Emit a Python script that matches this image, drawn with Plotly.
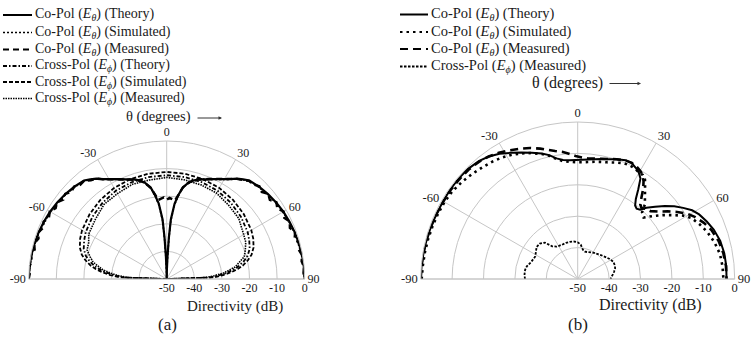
import plotly.graph_objects as go

# ------------------------------------------------------------------ data (a)
A_CO_THETA = [-90, -85, -80, -75, -70, -65, -60, -55, -50, -45, -40, -37.5, -35, -32.5, -30, -27.5, -25,
              -22.5, -20, -17.5, -15, -12.5, -10, -8, -6, -4, -3, -2, -1, 0,
              1, 2, 3, 4, 6, 8, 10, 12.5, 15, 17.5, 20, 22.5, 25, 27.5, 30, 32.5, 35, 37.5, 40,
              45, 50, 55, 60, 65, 70, 75, 80, 85, 90]
A_CO_THEORY = [0.0, -0.1, -0.2, -0.4, -0.6, -0.9, -1.2, -1.6, -2.1, -2.7, -3.4, -4.5, -5.6, -7.1, -8.2, -9.2, -10.1,
               -10.9, -11.6, -12.2, -13.1, -14.4, -16.2, -19.2, -22.5, -28.3, -35.0, -42.0, -47.0, -50.0,
               -47.0, -42.0, -35.0, -28.3, -22.5, -19.2, -16.2, -14.4, -13.1, -12.2, -11.6, -10.9, -10.1, -9.2,
               -8.2, -7.1, -5.6, -4.5, -3.4, -2.7, -2.1, -1.6, -1.2, -0.9, -0.6, -0.4, -0.2, -0.1, 0.0]
A_CO_SIM = [-0.1, -0.2, -0.4, -0.6, -0.8, -1.1, -1.4, -1.8, -2.3, -2.9, -3.6, -4.7, -5.8, -7.2, -8.3, -9.3, -10.2,
            -11.0, -11.7, -12.4, -13.3, -14.6, -16.5, -19.5, -23.0, -29.0, -36.0, -43.0, -47.5, -50.0,
            -47.5, -43.0, -36.0, -29.0, -23.0, -19.5, -16.5, -14.6, -13.3, -12.4, -11.7, -11.0, -10.2, -9.3,
            -8.3, -7.2, -5.8, -4.7, -3.6, -2.9, -2.3, -1.8, -1.4, -1.1, -0.8, -0.6, -0.4, -0.2, -0.1]
A_CO_MEAS_THETA = [-90, -87.5, -85, -82.5, -80, -77.5, -75, -72.5, -70, -67.5, -65, -62.5, -60, -57.5, -55,
                   -52.5, -50, -47.5, -45, -42.5, -40, -37.5, -35, -32.5, -30, -27.5, -25, -22.5, -20, -17.5,
                   -15, -12.5, -10, -8, -6, -4, -2, 0, 2, 4, 6, 8, 10, 12.5, 15, 17.5, 20, 22.5, 25, 27.5,
                   30, 32.5, 35, 37.5, 40, 42.5, 45, 47.5, 50, 52.5, 55, 57.5, 60, 62.5, 65, 67.5, 70, 72.5,
                   75, 77.5, 80, 82.5, 85, 87.5, 90]
A_CO_MEAS = [0.0, -0.4, 0.0, -0.7, -0.1, -1.0, -0.3, -1.3, -0.5, -1.6, -0.8, -1.9, -1.1, -2.3, -1.5,
             -2.8, -2.0, -3.2, -2.6, -3.7, -3.5, -4.9, -5.6, -7.2, -8.3, -9.3, -10.2, -11.0, -11.7, -12.3,
             -13.2, -14.5, -16.5, -19.0, -21.2, -20.8, -20.4, -21.3, -20.6, -21.0, -21.4, -19.1, -16.4, -14.4,
             -13.0, -12.1, -11.5, -10.8, -10.0, -9.1, -8.2, -7.0, -5.7, -4.8, -3.6, -3.6, -2.5, -3.3, -2.0,
             -2.9, -1.5, -2.5, -1.1, -2.0, -0.8, -1.7, -0.5, -1.4, -0.3, -1.0, -0.2, -0.7, -0.1, -0.4, 0.0]

A_X_THETA = [-90, -88, -86, -84, -82, -80, -77, -74, -70, -65, -60, -50, -40, -30, -20, -10, 0,
             10, 20, 30, 40, 50, 60, 65, 70, 74, 77, 80, 82, 84, 86, 88, 90]
A_X_THEORY = [-50.0, -34.5, -31.0, -28.0, -25.6, -23.6, -21.3, -19.5, -18.0, -17.0, -16.1, -14.9, -13.9, -13.1,
              -12.7, -12.5, -12.4, -12.5, -12.7, -13.1, -13.9, -14.9, -16.1, -17.0, -18.0, -19.5, -21.3,
              -23.6, -25.6, -28.0, -31.0, -34.5, -50.0]
A_X_SIM = [-50.0, -33.0, -29.5, -26.5, -24.0, -22.0, -19.8, -18.0, -16.5, -15.4, -14.6, -13.5, -12.6, -11.9,
           -11.5, -11.3, -11.2, -11.3, -11.5, -11.9, -12.6, -13.5, -14.6, -15.4, -16.5, -18.0, -19.8, -22.0,
           -24.0, -26.5, -29.5, -33.0, -50.0]
A_X_MEAS = [-50.0, -36.0, -32.2, -29.7, -26.8, -25.2, -22.6, -21.2, -19.3, -18.8, -17.4, -16.3, -14.7, -14.3,
            -13.5, -13.6, -13.2, -13.5, -13.7, -14.0, -15.1, -15.9, -17.8, -18.4, -19.7, -20.8, -23.0, -24.8,
            -27.2, -29.3, -32.7, -35.8, -50.0]

# ------------------------------------------------------------------ data (b)
B_CO_THETA = [-90, -85, -80, -75, -70, -65, -60, -55, -50, -45, -40, -36, -32, -28, -24, -20, -16,
              -13, -10, -7, -4, -1, 2, 5, 8, 11, 14, 18, 22, 25, 28, 30, 32, 34, 36, 38, 40, 42, 44,
              47, 50, 53, 56, 59, 62, 66, 70, 75, 80, 85, 90]
B_CO_THEORY = [0.0, -0.1, -0.2, -0.3, -0.4, -0.5, -0.5, -0.4, -0.4, -0.5, -1.0, -1.8, -3.0, -4.5, -5.9, -7.2, -8.4,
               -9.5, -11.0, -11.8, -12.1, -12.1, -12.0, -11.8, -11.5, -11.1, -10.7, -9.9, -9.2, -9.3, -10.2,
               -11.0, -12.3, -15.5, -18.5, -20.3, -20.8, -20.3, -18.5, -16.3, -13.8, -11.5, -9.5, -7.5, -6.2,
               -5.0, -3.9, -3.0, -2.6, -2.5, -2.6]
B_CO_SIM = [-0.3, -0.5, -0.6, -0.7, -0.8, -0.9, -1.0, -1.3, -1.9, -2.6, -3.3, -3.8, -4.4, -5.2, -6.2, -7.3, -8.6,
            -9.7, -11.2, -12.2, -12.6, -12.8, -12.8, -12.6, -12.3, -12.0, -11.7, -11.0, -10.3, -10.2, -10.5,
            -10.9, -10.9, -11.7, -13.5, -15.2, -16.7, -18.0, -20.5, -21.3, -18.8, -16.2, -13.6, -10.8, -8.8,
            -7.4, -6.1, -4.9, -4.0, -3.7, -3.6]
B_CO_MEAS = [0.0, -0.1, -0.2, -0.3, -0.4, -0.5, -0.6, -0.6, -0.7, -0.8, -1.2, -1.8, -2.6, -3.6, -4.6, -5.6, -6.8,
             -7.8, -8.6, -9.2, -10.0, -10.8, -11.3, -11.5, -11.3, -11.0, -10.6, -9.9, -9.3, -9.2, -9.7,
             -10.2, -11.0, -12.5, -14.5, -17.0, -19.0, -19.6, -18.9, -18.3, -16.6, -14.2, -11.8, -9.5, -7.8,
             -6.0, -4.6, -3.5, -2.9, -2.6, -2.6]
B_X_THETA = [-90, -85, -80, -76, -70, -62, -56, -52, -47, -42, -38, -33, -25, -18, -12, -6, 0,
             5, 10, 15, 22, 30, 36, 44, 51, 58, 64, 70, 74, 78, 82, 86, 90]
B_X_MEAS = [-33.2, -33.0, -33.0, -33.3, -34.2, -34.7, -34.0, -33.4, -33.5, -34.4, -36.8, -37.7, -38.0, -37.9,
            -37.9, -38.0, -38.3, -39.0, -40.5, -41.0, -40.8, -40.3, -40.0, -39.4, -38.8, -38.0, -37.4, -37.4,
            -37.6, -38.1, -38.6, -39.2, -39.5]

ANG_TICKS = [-90, -60, -30, 0, 30, 60, 90]
ANG_TICKTEXT = ["-90", "-60", "-30", "0", "30", "60", "90"]
RAD_TICKS = [-50, -40, -30, -20, -10, 0]
RAD_TICKTEXT = ["-50", "-40", "-30", "-20", "-10", "0"]

ETH = "<i>E</i><sub><i>θ</i></sub>"
EPH = "<i>E</i><sub><i>ϕ</i></sub>"
A_NAMES = [f"Co-Pol ({ETH}) (Theory)", f"Co-Pol ({ETH}) (Simulated)", f"Co-Pol ({ETH}) (Measured)",
           f"Cross-Pol ({EPH}) (Theory)", f"Cross-Pol ({EPH}) (Simulated)", f"Cross-Pol ({EPH}) (Measured)"]
B_NAMES = [f"Co-Pol ({ETH}) (Theory)", f"Co-Pol ({ETH}) (Simulated)", f"Co-Pol ({ETH}) (Measured)",
           f"Cross-Pol ({EPH}) (Measured)"]

# ------------------------------------------------------------------ styles / layout
W, H = 754, 340
FONT = "Liberation Serif, Times New Roman, Times, serif"
GRID = "#c6c6c6"
INK = "#1a1a1a"


def px(x):
    return x / W


def py(y):
    return 1 - y / H


A_STYLES = [dict(width=2.2, dash="solid"), dict(width=1.6, dash="2px,2px"), dict(width=2.4, dash="6px,4px"),
            dict(width=1.8, dash="4px,2px,1.5px,2px"), dict(width=1.8, dash="4px,2px"),
            dict(width=1.6, dash="1.5px,1px")]
B_STYLES = [dict(width=2.0, dash="solid"), dict(width=2.6, dash="2.5px,4px"), dict(width=2.6, dash="8px,5px"),
            dict(width=1.8, dash="2.5px,1.5px")]

fig = go.Figure()

a_series = [(A_CO_THETA, A_CO_THEORY), (A_CO_THETA, A_CO_SIM), (A_CO_MEAS_THETA, A_CO_MEAS),
            (A_X_THETA, A_X_THEORY), (A_X_THETA, A_X_SIM), (A_X_THETA, A_X_MEAS)]
for (th, r), name, st in zip(a_series, A_NAMES, A_STYLES):
    fig.add_trace(go.Scatterpolar(theta=th, r=r, mode="lines", name=name, subplot="polar",
                                  showlegend=False, line=dict(color="black", **st)))

b_series = [(B_CO_THETA, B_CO_THEORY), (B_CO_THETA, B_CO_SIM), (B_CO_THETA, B_CO_MEAS), (B_X_THETA, B_X_MEAS)]
for (th, r), name, st in zip(b_series, B_NAMES, B_STYLES):
    fig.add_trace(go.Scatterpolar(theta=th, r=r, mode="lines", name=name, subplot="polar2",
                                  showlegend=False, line=dict(color="black", **st)))


def polar_layout(cx, cy, R, fs):
    return dict(
        domain=dict(x=[px(cx - R), px(cx + R)], y=[py(cy), py(cy - R)]),
        sector=[0, 180],
        bgcolor="white",
        angularaxis=dict(rotation=90, direction="clockwise", tickmode="array", tickvals=ANG_TICKS,
                         ticktext=ANG_TICKTEXT, showline=True, linecolor=GRID, linewidth=1,
                         gridcolor=GRID, gridwidth=1, ticks="",
                         tickfont=dict(family=FONT, size=fs, color=INK)),
        radialaxis=dict(range=[-50, 0], tickmode="array", tickvals=RAD_TICKS, ticktext=RAD_TICKTEXT,
                        angle=0, side="clockwise", showline=False, gridcolor=GRID, gridwidth=1, ticks="",
                        tickfont=dict(family=FONT, size=fs, color=INK)),
    )


annotations = []
shapes = []


def legend_block(names, styles, x0, x1, xt, rows, fs):
    for name, st, y in zip(names, styles, rows):
        shapes.append(dict(type="line", xref="paper", yref="paper", x0=px(x0), x1=px(x1), y0=py(y), y1=py(y),
                           line=dict(color="black", width=min(st["width"], 2.0), dash=st["dash"])))
        annotations.append(dict(text=name, xref="paper", yref="paper", x=px(xt), y=py(y), xanchor="left",
                                yanchor="middle", showarrow=False, font=dict(family=FONT, size=fs, color=INK)))


legend_block(A_NAMES, A_STYLES, 3, 32, 33, [15, 32.5, 49.5, 66, 82, 98.5], 14)
legend_block(B_NAMES, B_STYLES, 400, 428, 429, [14.5, 32, 49, 66.5], 14.5)


def text(t, x, y, fs, anchor="center"):
    annotations.append(dict(text=t, xref="paper", yref="paper", x=px(x), y=py(y), xanchor=anchor,
                            yanchor="middle", showarrow=False, font=dict(family=FONT, size=fs, color=INK)))


def arrow(x, y, length):
    annotations.append(dict(text="", xref="paper", yref="paper", x=px(x), y=py(y), ax=-length, ay=0,
                            showarrow=True, arrowhead=2, arrowsize=0.7, arrowwidth=1, arrowcolor="#333"))


text("θ (degrees)", 158, 116.5, 14.5)
arrow(222, 118, 26)
text("θ (degrees)", 567.5, 82.5, 16)
arrow(641, 83.5, 33)
text("Directivity (dB)", 235, 306, 15)
text("(a)", 167.5, 324, 17)
text("Directivity (dB)", 650, 305, 16)
text("(b)", 577.5, 324, 17)

fig.update_layout(
    width=W, height=H, autosize=False,
    margin=dict(l=0, r=0, t=0, b=0),
    paper_bgcolor="white", plot_bgcolor="white",
    font=dict(family=FONT, color=INK),
    polar=polar_layout(166.7, 279, 138, 12),
    polar2=polar_layout(577.7, 279, 157, 12.5),
    annotations=annotations,
    shapes=shapes,
    showlegend=False,
)

fig.write_html("out.html")
